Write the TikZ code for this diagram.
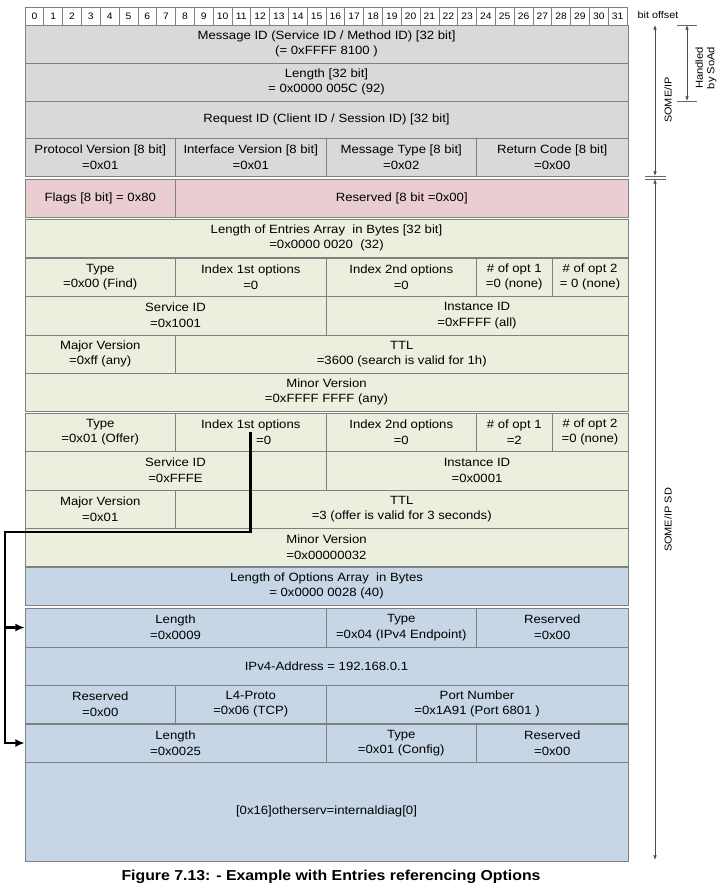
\documentclass[tikz,border=0pt]{standalone}
\usepackage{fontspec}
\setmainfont[FakeStretch=1.1]{Liberation Sans}
\usepackage{tikz}
\usetikzlibrary{arrows.meta, positioning, calc}
\definecolor{hdgray}{RGB}{217, 217, 217}
\definecolor{flagpink}{RGB}{234, 205, 209}
\definecolor{entgreen}{RGB}{235, 239, 221}
\definecolor{optblue}{RGB}{198, 214, 231}
\definecolor{cellline}{RGB}{128, 128, 128}

\begin{document}
\begin{tikzpicture}[x=0.03cm, y=-0.03cm, font=\fontsize{10.2}{13.3}\selectfont, >=Latex,
      c/.style={draw=cellline, line width=0.6pt, inner sep=0pt, align=center},
      w/.style={minimum width=#1*0.03cm},
      h/.style={minimum height=#1*0.03cm},
      dim/.style={draw=black!70, line width=0.5pt, {Latex[length=4pt, width=3pt]}-{Latex[length=4pt, width=3pt]}},
      tick/.style={draw=black!60, line width=0.5pt},
      link/.style={line width=2.2pt, -{Latex[length=8pt, width=7pt]}}]
    \useasboundingbox (0,0) rectangle (720,889);
    % bit offset row
    \foreach \i in {0,...,31}
      \node[c, fill=white, w=18.8125, h=18, font=\fontsize{8}{9}\selectfont] (bit\i) at ({25+(\i+0.5)*18.8125},16) {\i};
    \node[font=\fontsize{8.4}{9}\selectfont] (bitoff) at (658,15) {bit offset};
    % SOME/IP header
    \node[c, fill=hdgray, w=603, h=38] (msgid) at (326.5,44) {Message ID (Service ID / Method ID) [32 bit]\\(= 0xFFFF 8100 )};
    \node[c, fill=hdgray, w=603, h=38] (len) at (326.5,82) {Length [32 bit]\\= 0x0000 005C (92)};
    \node[c, fill=hdgray, w=603, h=37] (reqid) at (326.5,119.5) {Request ID (Client ID / Session ID) [32 bit]};
    \node[c, fill=hdgray, w=150.5, h=38] (proto) at (100.25,157) {Protocol Version [8 bit]\\=0x01};
    \node[c, fill=hdgray, w=150.5, h=38] (iface) at (250.75,157) {Interface Version [8 bit]\\=0x01};
    \node[c, fill=hdgray, w=150.5, h=38] (msgtype) at (401.25,157) {Message Type [8 bit]\\=0x02};
    \node[c, fill=hdgray, w=151.5, h=38] (retcode) at (552.25,157) {Return Code [8 bit]\\=0x00};
    % SD header
    \node[c, fill=flagpink, w=150.5, h=38] (flags) at (100.25,198) {Flags [8 bit] = 0x80};
    \node[c, fill=flagpink, w=452.5, h=38] (resv) at (401.75,198) {Reserved [8 bit =0x00]};
    % entries
    \node[c, fill=entgreen, w=603, h=38] (entlen) at (326.5,238) {Length of Entries Array\ \ in Bytes [32 bit]\\=0x0000 0020\ \ (32)};
    \node[c, fill=entgreen, w=150.5, h=38] (e1type) at (100.25,277) {Type\\=0x00 (Find)};
    \node[c, fill=entgreen, w=150.5, h=38] (e1idx1) at (250.75,277) {Index 1st options\\=0};
    \node[c, fill=entgreen, w=150.5, h=38] (e1idx2) at (401.25,277) {Index 2nd options\\=0};
    \node[c, fill=entgreen, w=75.5, h=38] (e1n1) at (514.25,277) {\# of opt 1\\=0 (none)};
    \node[c, fill=entgreen, w=76, h=38] (e1n2) at (590,277) {\# of opt 2\\= 0 (none)};
    \node[c, fill=entgreen, w=301, h=39] (e1svc) at (175.5,315.5) {Service ID\\=0x1001};
    \node[c, fill=entgreen, w=302, h=39] (e1inst) at (477,315.5) {Instance ID\\=0xFFFF (all)};
    \node[c, fill=entgreen, w=150.5, h=38] (e1major) at (100.25,354) {Major Version\\=0xff (any)};
    \node[c, fill=entgreen, w=452.5, h=38] (e1ttl) at (401.75,354) {TTL\\=3600 (search is valid for 1h)};
    \node[c, fill=entgreen, w=603, h=38] (e1minor) at (326.5,392) {Minor Version\\=0xFFFF FFFF (any)};
    \node[c, fill=entgreen, w=150.5, h=38] (e2type) at (100.25,432) {Type\\=0x01 (Offer)};
    \node[c, fill=entgreen, w=150.5, h=38] (e2idx1) at (250.75,432) {Index 1st options\\\hspace*{22pt}=0};
    \node[c, fill=entgreen, w=150.5, h=38] (e2idx2) at (401.25,432) {Index 2nd options\\=0};
    \node[c, fill=entgreen, w=75.5, h=38] (e2n1) at (514.25,432) {\# of opt 1\\=2};
    \node[c, fill=entgreen, w=76, h=38] (e2n2) at (590,432) {\# of opt 2\\=0 (none)};
    \node[c, fill=entgreen, w=301, h=39] (e2svc) at (175.5,470.5) {Service ID\\=0xFFFE};
    \node[c, fill=entgreen, w=302, h=39] (e2inst) at (477,470.5) {Instance ID\\=0x0001};
    \node[c, fill=entgreen, w=150.5, h=38] (e2major) at (100.25,509) {Major Version\\=0x01};
    \node[c, fill=entgreen, w=452.5, h=38] (e2ttl) at (401.75,509) {TTL\\=3 (offer is valid for 3 seconds)};
    \node[c, fill=entgreen, w=603, h=38] (e2minor) at (326.5,547) {Minor Version\\=0x00000032};
    % options
    \node[c, fill=optblue, w=603, h=38] (optlen) at (326.5,586) {Length of Options Array\ \ in Bytes\\= 0x0000 0028 (40)};
    \node[c, fill=optblue, w=301, h=39] (o1len) at (175.5,627.5) {Length\\=0x0009};
    \node[c, fill=optblue, w=150.5, h=39] (o1type) at (401.25,627.5) {Type\\=0x04 (IPv4 Endpoint)};
    \node[c, fill=optblue, w=151.5, h=39] (o1resv) at (552.25,627.5) {Reserved\\=0x00};
    \node[c, fill=optblue, w=603, h=38] (o1ip) at (326.5,666) {IPv4-Address = 192.168.0.1};
    \node[c, fill=optblue, w=150.5, h=38] (o1resv2) at (100.25,704) {Reserved\\=0x00};
    \node[c, fill=optblue, w=150.5, h=38] (o1proto) at (250.75,704) {L4-Proto\\=0x06 (TCP)};
    \node[c, fill=optblue, w=302, h=38] (o1port) at (477,704) {Port Number\\=0x1A91 (Port 6801 )};
    \node[c, fill=optblue, w=301, h=38] (o2len) at (175.5,743) {Length\\=0x0025};
    \node[c, fill=optblue, w=150.5, h=38] (o2type) at (401.25,743) {Type\\=0x01 (Config)};
    \node[c, fill=optblue, w=151.5, h=38] (o2resv) at (552.25,743) {Reserved\\=0x00};
    \node[c, fill=optblue, w=603, h=99] (o2cfg) at (326.5,811.5) {[0x16]otherserv=internaldiag[0]};
    % entry -> option references
    \coordinate (turn) at (5,532);
    \draw[link] (e2idx1.center) |- (turn) |- (o1len.west);
    \draw[link] (turn) |- (o2len.west);
    % dimension arrows on the right
    \coordinate (sipT) at (655,25);
    \coordinate (sipB) at (655,176);
    \coordinate (sdT) at (655,179);
    \coordinate (sdB) at (655,860);
    \coordinate (soT) at (687,25);
    \coordinate (soB) at (687,101);
    \draw[dim] (sipT) -- (sipB);
    \draw[dim] (sdT) -- (sdB);
    \draw[dim] (soT) -- (soB);
    \draw[tick] (645,176) -- (666,176);
    \draw[tick] (645,179) -- (666,179);
    \draw[tick] (677,25) -- (697,25);
    \draw[tick] (677,101) -- (697,101);
    \node[rotate=90, font=\fontsize{8.5}{10}\selectfont] (siplbl) at (668,100) {SOME/IP};
    \node[rotate=90, font=\fontsize{8.5}{10}\selectfont] (sdlbl) at (668,520) {SOME/IP SD};
    \node[rotate=90, align=center, font=\fontsize{8.7}{10}\selectfont] (solbl) at (706,68) {Handled\\by SoAd};
    % caption
    \node[font=\fontsize{12.3}{14}\selectfont\bfseries] (caption) at (331,877) {Figure 7.13: - Example with Entries referencing Options};
  \end{tikzpicture}
\end{document}
